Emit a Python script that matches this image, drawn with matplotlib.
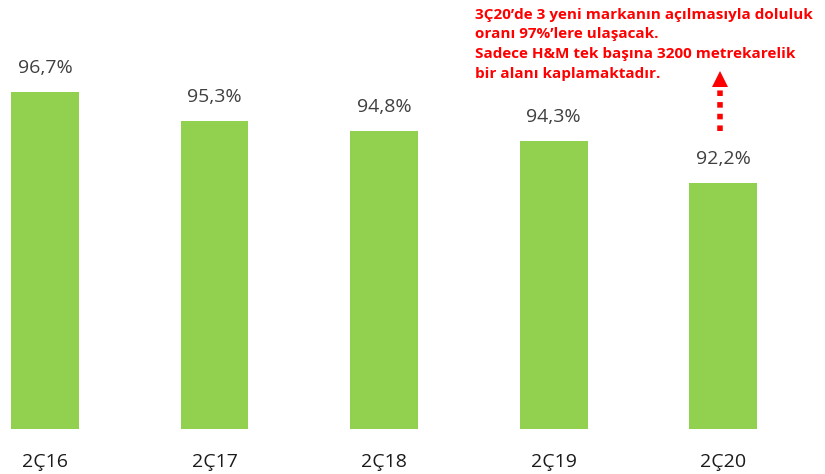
import numpy as np
import matplotlib.pyplot as plt

plt.rcParams['font.family'] = ['Open Sans', 'DejaVu Sans']

# Doluluk oranı (%)
periods = ['2Ç16', '2Ç17', '2Ç18', '2Ç19', '2Ç20']
occupancy = [96.7, 95.3, 94.8, 94.3, 92.2]
value_labels = ['96,7%', '95,3%', '94,8%', '94,3%', '92,2%']

note_lines = [
    '3Ç20’de 3 yeni markanın açılmasıyla doluluk',
    'oranı 97%’lere ulaşacak.',
    'Sadece H&M tek başına 3200 metrekarelik',
    'bir alanı kaplamaktadır.',
]
# arrow from the last bar's label up to the 3Ç20 target
arrow_from, arrow_to = 94.8, 97.6

bar_color = '#92D050'
label_color = '#404040'
x = np.arange(len(periods))
px_per_unit = 20.15

fig = plt.figure(figsize=(8.25, 4.74), dpi=100)
ax = fig.add_axes([0, 45 / 474, 1, 429 / 474])

ax.bar(x, occupancy, width=0.40, color=bar_color, bottom=0)
ax.set_xlim(-0.265, 4.60)
ax.set_ylim(80, 80 + 429 / px_per_unit)

for xi, v, lab in zip(x, occupancy, value_labels):
    ax.text(xi, v + 1.2, lab, ha='center', va='center', fontsize=14, color=label_color)

# category labels under the plot area
for xi, p in zip(x, periods):
    ax.text(xi, 78.35, p, ha='center', va='center', fontsize=14, color='#1a1a1a', clip_on=False)

# dotted arrow
ax.plot([x[-1] - 0.02, x[-1] - 0.02], [arrow_from, arrow_to - 0.45], color='red',
        lw=4, linestyle=(0, (1, 1.1)), solid_capstyle='butt')
ax.plot([x[-1] - 0.02], [arrow_to - 0.25], marker='^', markersize=12, color='red',
        markeredgewidth=0)

# note text
for i, line in enumerate(note_lines):
    ax.text(2.535, 100.55 - i * 0.97, line, ha='left', va='center', fontsize=11,
            fontweight='bold', color='red')

ax.axis('off')
fig.savefig('out.png', dpi=100)
